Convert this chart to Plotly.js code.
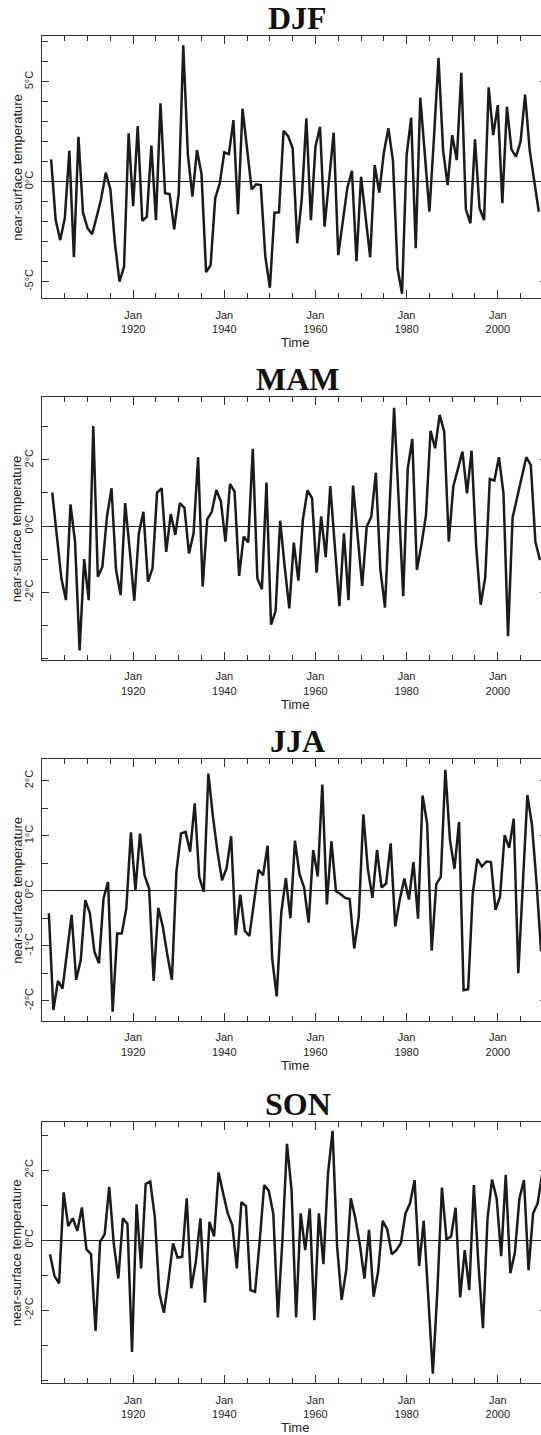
<!DOCTYPE html>
<html>
<head>
<meta charset="utf-8">
<script src="https://cdn.plot.ly/plotly-3.0.1.min.js"></script>
<style>
  html, body { margin: 0; padding: 0; overflow: hidden; background: #fff; }
  #chart { width: 547px; height: 1435px; }
</style>
</head>
<body>
<div id="chart"></div>
<script>
// Seasonal near-surface temperature anomalies (deg C), one value per year.
// Each season is stamped at its middle month: DJF -> Jan, MAM -> Apr, JJA -> Jul, SON -> Oct.
const seasonNames = ["DJF", "MAM", "JJA", "SON"];
const seasonFirstYear = [1902, 1902, 1901, 1901];
const seasonMonthOffset = [0.0, 0.25, 0.5, 0.75];

const djfValues = [
  1.12, -1.92, -2.92, -1.83, 1.55, -3.78, 2.25, -1.55, -2.33, -2.63,
  -1.75, -0.83, 0.45, -0.38, -3.08, -5.0, -4.25, 2.42, -1.22, 2.78,
  -1.95, -1.75, 1.8, -1.92, 3.92, -0.58, -0.62, -2.38, -0.58, 6.82,
  1.38, -0.75, 1.58, 0.38, -4.52, -4.17, -0.83, -0.08, 1.47, 1.38,
  3.08, -1.63, 3.65, 1.5, -0.38, -0.13, -0.17, -3.75, -5.3,
  -1.55, -1.53, 2.55, 2.28, 1.67, -3.08, -0.83, 3.17, -1.92, 1.75,
  2.75, -2.25, 0.1, 2.45, -3.67, -2.0, -0.3, 0.55, -3.97, 0.25,
  -1.92, -3.78, 0.83, -0.55, 1.45, 2.67, 1.05, -4.33, -5.6, 1.33,
  3.2, -3.33, 4.2, 1.4, -1.5, 2.2, 6.2, 1.58, -0.17, 2.33,
  1.08, 5.45, -1.38, -2.08, 2.12, -1.33, -1.92, 4.72, 2.33, 3.83,
  -1.08, 3.75, 1.62, 1.25, 2.0, 4.35, 1.58, 0.05, -1.5
];

const mamValues = [
  1.01, -0.25, -1.58, -2.24, 0.65, -0.47, -3.76, -1.0, -2.24, 3.02,
  -1.53, -1.23, 0.28, 1.14, -1.33, -2.09, 0.69, -0.73, -2.26,
  -0.22, 0.43, -1.68, -1.28, 1.01, 1.14, -0.78, 0.36, -0.27, 0.69,
  0.55, -0.83, -0.22, 2.08, -1.83, 0.2, 0.43, 1.09, 0.74, -0.47,
  1.27, 1.04, -1.51, -0.32, -0.5, 2.33, -1.58, -1.91, 1.31,
  -2.98, -2.57, 0.16, -1.23, -2.49, -0.5, -1.65, 0.2, 1.08, 0.84,
  -1.41, 0.29, -0.94, 1.21, -0.52, -2.42, -0.22, -2.24, 1.22, -0.32,
  -1.81, -0.02, 0.28, 1.61, -1.33, -2.47, 0.6, 3.57, 0.8, -2.12,
  1.74, 2.63, -1.33, -0.57, 0.33, 2.88, 2.35, 3.36, 2.85, -0.47,
  1.2, 1.74, 2.25, 0.99, 2.28, -0.6, -2.38, -1.55, 1.42, 1.37,
  2.08, 0.99, -3.33, 0.25, 0.86, 1.46, 2.08, 1.84, -0.47, -1.03
];

const jjaValues = [
  -0.41, -2.17, -1.64, -1.78, -1.11, -0.44, -1.62, -1.26, -0.17, -0.41,
  -1.11, -1.32, -0.14, 0.16, -2.2, -0.78, -0.78, -0.32, 1.06, 0.01,
  1.04, 0.28, 0.04, -1.64, -0.31, -0.65, -1.17, -1.62, 0.35, 1.04,
  1.07, 0.71, 1.59, 0.25, -0.02, 2.13, 1.35, 0.71, 0.19, 0.41,
  0.99, -0.81, -0.07, -0.73, -0.82, -0.23, 0.38, 0.28, 0.82,
  -1.23, -1.92, -0.4, 0.23, -0.5, 0.91, 0.3, 0.06, -0.58, 0.74,
  0.26, 1.93, -0.25, 0.9, -0.01, -0.06, -0.13, -0.15, -1.05, -0.47,
  1.39, 0.39, -0.13, 0.74, 0.06, 0.13, 0.86, -0.65, -0.16, 0.22,
  -0.16, 0.52, -0.51, 1.73, 1.22, -1.09, 0.12, 0.25, 2.2, 0.93,
  0.4, 1.25, -1.81, -1.79, -0.06, 0.58, 0.44, 0.53, 0.52, -0.35,
  -0.11, 1.01, 0.78, 1.31, -1.5, 0.25, 1.74, 1.2, 0.15, -1.1
];

const sonValues = [
  -0.41, -1.03, -1.24, 1.36, 0.4, 0.62, 0.26, 0.93, -0.27, -0.4,
  -2.6, -0.05, 0.17, 1.52, -0.1, -1.1, 0.62, 0.46, -3.2, 1.02,
  -0.81, 1.6, 1.67, 0.67, -1.52, -2.08, -1.14, -0.1, -0.5, -0.48,
  1.19, -1.38, -0.62, 0.62, -1.79, 0.52, 0.1, 1.93, 1.33, 0.76,
  0.43, -0.81, 1.08, 0.97, -1.43, -1.48, -0.05, 1.57, 1.41, 0.75,
  -2.21, 0.0, 2.75, 1.43, -2.21, 0.76, -0.29, 0.9, -2.29, 0.76,
  -0.69, 1.9, 3.12, -0.19, -1.71, -0.86, 1.19, 0.62, -0.14, -1.1,
  0.29, -1.62, -0.9, 0.55, 0.3, -0.41, -0.29, -0.08, 0.76, 1.05,
  1.71, -0.74, 0.55, -1.71, -3.82, -1.43, 1.5, 0.02, 0.1, 0.92,
  -1.64, -0.29, -1.43, 1.57, -0.67, -2.52, 0.62, 1.73, 1.19, -0.46,
  1.86, -0.95, -0.36, 1.19, 1.71, -0.86, 0.76, 1.05, 1.9
];

const seasonValues = [djfValues, mamValues, jjaValues, sonValues];

// Axis labelling
const timeTickYears = [1920, 1940, 1960, 1980, 2000];
const timeTickText = ["Jan<br>1920", "Jan<br>1940", "Jan<br>1960", "Jan<br>1980", "Jan<br>2000"];
const tempTickValues = [[-5, 0, 5], [-2, 0, 2], [-2, -1, 0, 1, 2], [-2, 0, 2]];
const tempTickText = [
  ["-5°C", "0°C", "5°C"],
  ["-2°C", "0°C", "2°C"],
  ["-2°C", "-1°C", "0°C", "1°C", "2°C"],
  ["-2°C", "0°C", "2°C"]
];

// Panel geometry and scales
const FIG_H = 1435;
const panelPx = [[36, 298.3], [397.3, 660], [759, 1021], [1121.7, 1383.3]];
const tempRanges = [[-5.83, 7.285], [-4.05, 3.89], [-2.369, 2.395], [-4.094, 3.38]];
const minorSteps = [1, 1, 0.5, 1];
const timeRange = [1900, 2010.8];

const ink = "#222";
const axisInk = "#333";
const sans = "Liberation Sans, Arial, Helvetica, sans-serif";
const serif = "Liberation Serif, Times New Roman, serif";

const traces = [];
const layout = {
  width: 547,
  height: FIG_H,
  margin: { l: 42, r: 0, t: 0, b: 0, pad: 0 },
  paper_bgcolor: "#fff",
  plot_bgcolor: "#fff",
  showlegend: false,
  annotations: []
};

seasonNames.forEach((name, i) => {
  const n = i + 1;
  const sfx = n === 1 ? "" : String(n);
  const values = seasonValues[i];
  const times = values.map((_, k) => seasonFirstYear[i] + k + seasonMonthOffset[i]);

  traces.push({
    type: "scatter",
    mode: "lines",
    x: times,
    y: values,
    xaxis: "x" + sfx,
    yaxis: "y" + sfx,
    line: { color: "#1b1b1b", width: 2.5 },
    hoverinfo: "x+y"
  });

  const [top, bottom] = panelPx[i];
  layout["xaxis" + sfx] = {
    domain: [0, 1],
    anchor: "y" + sfx,
    range: timeRange,
    tickmode: "array",
    tickvals: timeTickYears,
    ticktext: timeTickText,
    ticks: "inside",
    ticklen: 8,
    tickwidth: 1,
    tickcolor: axisInk,
    ticklabelstandoff: 6,
    tickfont: { family: sans, size: 11, color: ink },
    minor: { tick0: 1900, dtick: 5, ticks: "inside", ticklen: 5, tickwidth: 1, tickcolor: axisInk, showgrid: false },
    showline: true,
    linecolor: axisInk,
    linewidth: 1,
    mirror: "ticks",
    showgrid: false,
    zeroline: false,
    fixedrange: true
  };
  layout["yaxis" + sfx] = {
    domain: [1 - bottom / FIG_H, 1 - top / FIG_H],
    anchor: "x" + sfx,
    range: tempRanges[i],
    tickmode: "array",
    tickvals: tempTickValues[i],
    ticktext: tempTickText[i],
    tickangle: -90,
    ticks: "inside",
    ticklen: 7,
    tickwidth: 1,
    tickcolor: axisInk,
    ticklabelstandoff: 4,
    tickfont: { family: sans, size: 11, color: ink },
    minor: { tick0: 0, dtick: minorSteps[i], ticks: "inside", ticklen: 6, tickwidth: 1, tickcolor: axisInk, showgrid: false },
    showline: true,
    linecolor: axisInk,
    linewidth: 1,
    mirror: "ticks",
    showgrid: false,
    zeroline: true,
    zerolinecolor: "#222",
    zerolinewidth: 1,
    fixedrange: true
  };

  const panelH = bottom - top;
  layout.annotations.push(
    {
      text: "<b>" + name + "</b>",
      xref: "x" + sfx + " domain", yref: "y" + sfx + " domain",
      x: 0.506, y: 1, xanchor: "center", yanchor: "bottom",
      yshift: -1, borderpad: 0,
      showarrow: false,
      font: { family: serif, size: 32, color: "#111" }
    },
    {
      text: "near-surface temperature",
      xref: "x" + sfx + " domain", yref: "y" + sfx + " domain",
      x: (16.7 - 42) / 505, y: 0.5, xanchor: "center", yanchor: "middle",
      textangle: -90,
      showarrow: false,
      font: { family: sans, size: 13, color: ink }
    },
    {
      text: "Time",
      xref: "x" + sfx + " domain", yref: "y" + sfx + " domain",
      x: (295 - 42) / 505, y: -44 / panelH, xanchor: "center", yanchor: "middle",
      showarrow: false,
      font: { family: sans, size: 13, color: ink }
    }
  );
});

Plotly.newPlot("chart", traces, layout, { staticPlot: true, displayModeBar: false });
</script>
</body>
</html>
